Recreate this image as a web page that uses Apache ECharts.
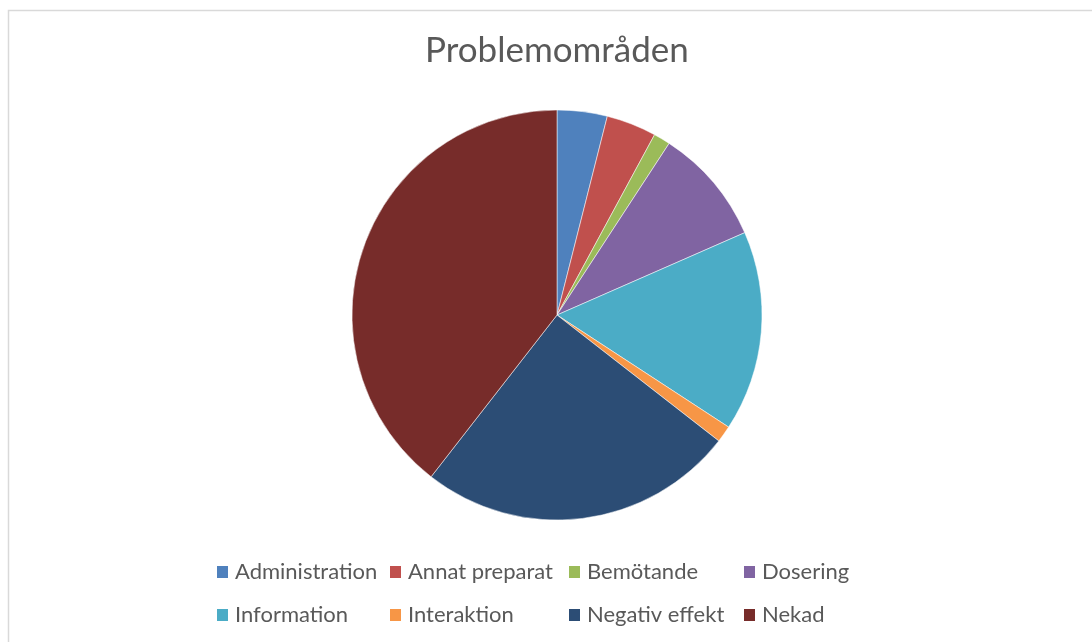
<!DOCTYPE html>
<html>
<head>
<meta charset="utf-8">
<script src="https://cdn.jsdelivr.net/npm/echarts@6/dist/echarts.min.js"></script>
<style>html,body{margin:0;padding:0;background:#fff;}#c{width:1092px;height:642px;}</style>
</head>
<body>
<div id="c"></div>
<script>
const titleText = 'Problemområden';
const categories = ['Administration','Annat preparat','Bemötande','Dosering','Information','Interaktion','Negativ effekt','Nekad'];
const values = [3, 3, 1, 7, 12, 1, 19, 30];
const colors = ['#4F81BD','#C0504D','#9BBB59','#8064A2','#4BACC6','#F79646','#2C4D75','#772C2A'];

const FONT = 'Lato';
const legendCols = [215, 388, 567, 742];
const legendRows = [561, 604];
const legends = categories.map((name, i) => ({
  data: [name],
  left: legendCols[i % 4],
  top: legendRows[Math.floor(i / 4)],
  itemWidth: 13,
  itemHeight: 14,
  icon: 'rect',
  selectedMode: false,
  padding: 0,
  textStyle: { color: '#595959', fontSize: 22, fontFamily: FONT, padding: [0,0,0,1] }
}));

const chart = echarts.init(document.getElementById('c'), null, { renderer: 'canvas' });
chart.setOption({
  animation: false,
  color: colors,
  title: {
    text: titleText,
    left: 425,
    top: 33,
    padding: 0,
    textStyle: { color: '#595959', fontSize: 35, fontWeight: 'normal', fontFamily: FONT }
  },
  graphic: [{
    type: 'rect',
    shape: { x: 8.5, y: 10.5, width: 1200, height: 800 },
    style: { fill: 'none', stroke: '#d9d9d9', lineWidth: 1.5 },
    silent: true
  }],
  legend: legends,
  series: [{
    type: 'pie',
    center: [557, 315],
    radius: 205,
    startAngle: 90,
    clockwise: true,
    label: { show: false },
    labelLine: { show: false },
    emphasis: { disabled: true },
    itemStyle: { borderColor: '#ffffff', borderWidth: 0.5 },
    data: categories.map((n, i) => ({ name: n, value: values[i] }))
  }]
});
</script>
</body>
</html>
